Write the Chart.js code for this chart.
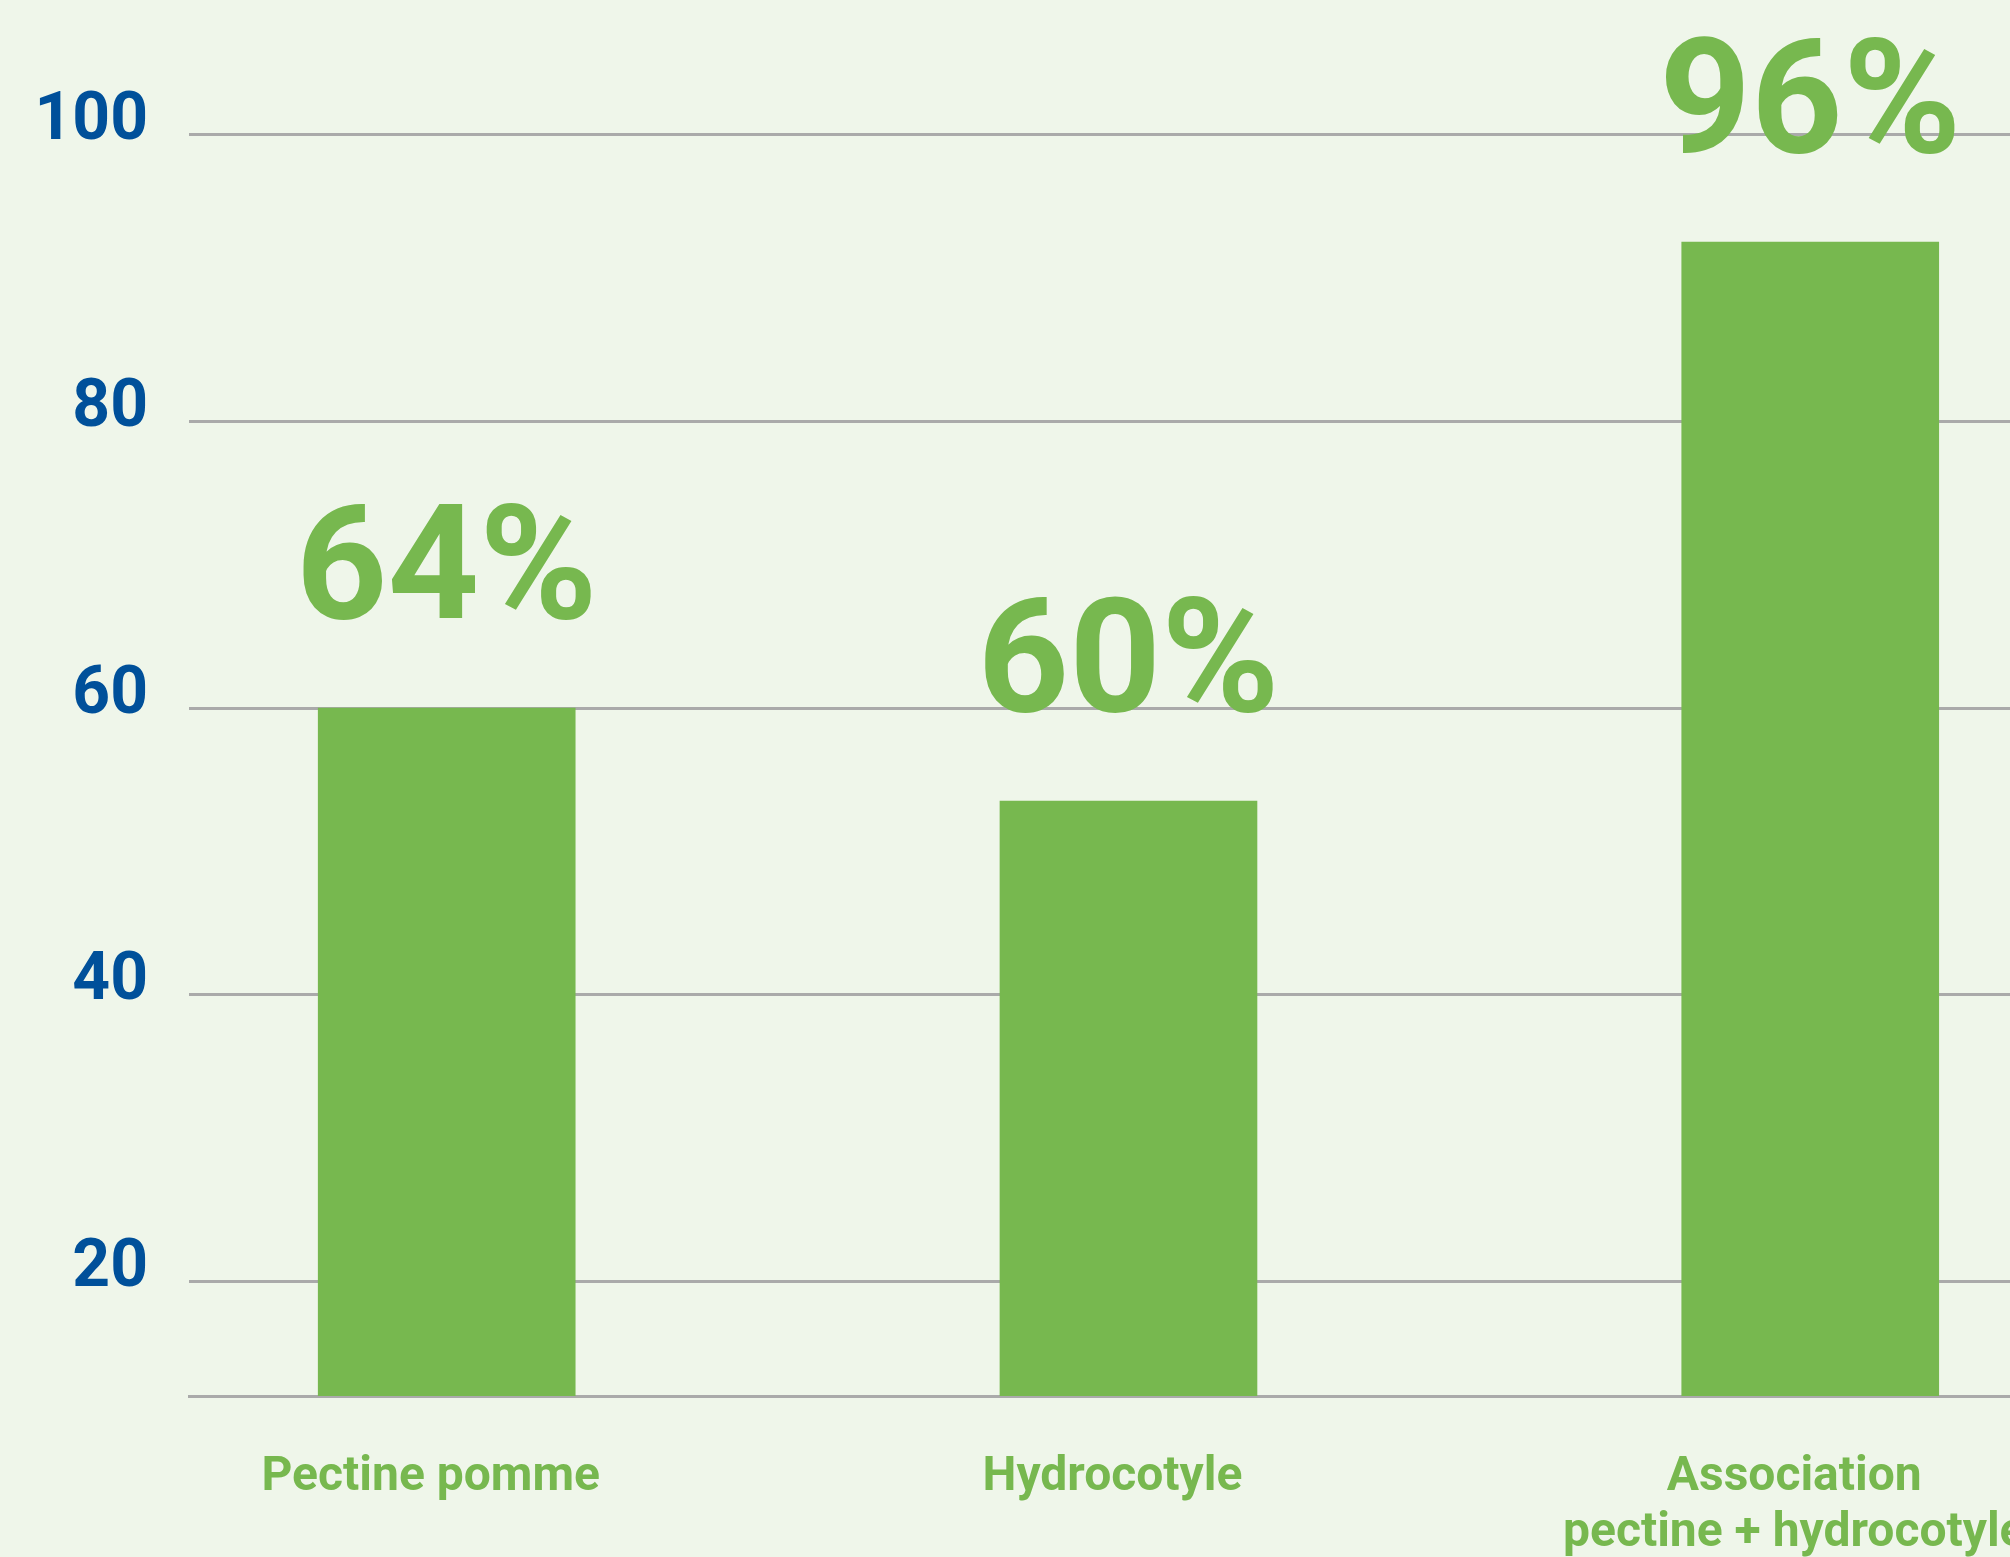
<!DOCTYPE html>
<html>
<head>
<meta charset="utf-8">
<script src="https://cdn.jsdelivr.net/npm/chart.js@4/dist/chart.umd.min.js"></script>
<style>
  html, body { margin: 0; padding: 0; background: #eff6ea; }
  #wrap { width: 2010px; height: 1557px; position: relative; }
</style>
</head>
<body>
<div id="wrap"><canvas id="c"></canvas></div>
<script>
// ---- data ----
const categories = [['Pectine pomme'], ['Hydrocotyle'], ['Association', 'pectine + hydrocotyle']];
const barValues = [60, 53.5, 92.5];
const valueLabels = ['64%', '60%', '96%'];
const yTickValues = [20, 40, 60, 80, 100];

// ---- styles ----
const GREEN = '#77b84f';
const BLUE = '#00509a';
const GRID = '#aaaaaa';
const FONT = 'Roboto';

const valueLabelPlugin = {
  id: 'valueLabels',
  afterDatasetsDraw(chart) {
    const ctx = chart.ctx;
    const meta = chart.getDatasetMeta(0);
    ctx.save();
    ctx.fillStyle = GREEN;
    ctx.font = 'bold 160px ' + FONT;
    ctx.textAlign = 'center';
    ctx.textBaseline = 'alphabetic';
    meta.data.forEach((el, i) => {
      ctx.fillText(valueLabels[i], el.x, el.y - 90);
    });
    ctx.restore();
  }
};

new Chart(document.getElementById('c'), {
  type: 'bar',
  data: {
    datasets: [{
      data: barValues.map((v, i) => ({ x: i, y: v })),
      backgroundColor: GREEN,
      borderWidth: 0,
      barThickness: 257
    }]
  },
  options: {
    responsive: true,
    maintainAspectRatio: false,
    animation: false,
    layout: { padding: { top: 20, left: 0, right: 0, bottom: 0 } },
    plugins: { legend: { display: false }, tooltip: { enabled: false } },
    scales: {
      x: {
        type: 'linear',
        offset: false,
        min: -0.378,
        max: 2.293,
        grid: { display: false, drawTicks: false, offset: false },
        border: { display: true, color: GRID, width: 3 },
        afterBuildTicks(scale) { scale.ticks = categories.map((_, i) => ({ value: i })); },
        afterFit(scale) { scale.height = 161; scale.paddingLeft = 0; scale.paddingRight = 0; },
        ticks: {
          autoSkip: false,
          maxRotation: 0,
          minRotation: 0,
          padding: 54,
          labelOffset: -16,
          color: GREEN,
          font: { family: FONT, weight: 'bold', size: 48, lineHeight: 1.17 },
          callback: (value, index) => categories[index]
        }
      },
      y: {
        type: 'linear',
        min: 12,
        max: 108,
        grid: { color: GRID, lineWidth: 3, drawTicks: false },
        border: { display: false },
        afterBuildTicks(scale) { scale.ticks = yTickValues.map(v => ({ value: v })); },
        afterFit(scale) { scale.width = 189; scale.paddingTop = 0; scale.paddingBottom = 0; },
        ticks: {
          padding: 41,
          labelOffset: -12,
          color: BLUE,
          font: { family: FONT, weight: 'bold', size: 66 },
          callback: v => String(v)
        }
      }
    }
  },
  plugins: [valueLabelPlugin]
});
</script>
</body>
</html>
